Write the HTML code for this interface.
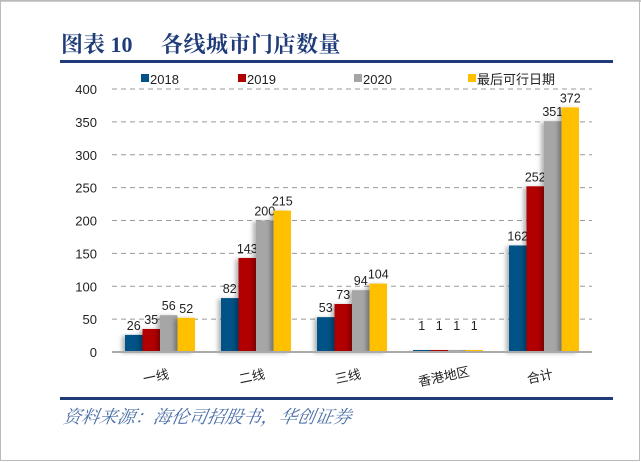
<!DOCTYPE html>
<html><head><meta charset="utf-8"><style>
body{margin:0;background:#fff;}
#wrap{position:relative;width:641px;height:462px;overflow:hidden;background:#fff;}
</style></head><body>
<div id="wrap">
<svg id="chart" width="641" height="462" xmlns="http://www.w3.org/2000/svg">
<defs><filter id="sh" x="-50%" y="-10%" width="200%" height="130%"><feDropShadow dx="-3" dy="1" stdDeviation="2" flood-color="#000" flood-opacity="0.3"/></filter></defs>
<rect x="0" y="0" width="641" height="2" fill="#ccc"/>
<rect x="0.5" y="0.5" width="639" height="460" fill="none" stroke="#bbb"/>
<text x="61" y="52" font-family="'Liberation Serif','Noto Serif CJK SC',serif" font-weight="bold" font-size="22" fill="#1f3c78">图表 10</text>
<text x="161" y="52" font-family="'Liberation Serif','Noto Serif CJK SC',serif" font-weight="bold" font-size="22" letter-spacing="0.5" fill="#1f3c78">各线城市门店数量</text>
<rect x="60" y="60" width="553" height="3" fill="#1f3c78"/>
<rect x="60" y="397" width="553" height="3" fill="#1f3c78"/>
<text x="62" y="423" font-family="'Liberation Serif','Noto Serif CJK SC',serif" font-style="italic" font-size="18" fill="#4a6fa8" transform="skewX(-10) translate(75,0)">资料来源：海伦司招股书，华创证券</text>
<g id="plot"></g>
</svg>
</div>
<script>
const categories=["一线","二线","三线","香港地区","合计"];
const seriesNames=["2018","2019","2020","最后可行日期"];
const s2018=[26,82,53,1,162];
const s2019=[35,143,73,1,252];
const s2020=[56,200,94,1,351];
const sLatest=[52,215,104,1,372];
const yTicks=[0,50,100,150,200,250,300,350,400];
const colors=["#005287","#b00000","#a6a6a6","#ffc000"];
const series=[s2018,s2019,s2020,sLatest];
const NS="http://www.w3.org/2000/svg";
const g=document.getElementById('plot');
const x0=112,x1=592,yb=352,yt=89;
const y=v=>yb-(v/400)*(yb-yt);
const bw=(x1-x0)/categories.length;
const barW=17.5;
const cx=i=>x0+bw*(i+0.5);
function mk(t,a){const e=document.createElementNS(NS,t);for(const k in a)e.setAttribute(k,a[k]);g.appendChild(e);return e;}
yTicks.forEach(t=>{
 if(t>0){const l=mk('line',{x1:x0,x2:x1,y1:y(t),y2:y(t),stroke:'#999','stroke-dasharray':'5,4','stroke-width':1});
 
 }
 const tx=mk('text',{x:97,y:y(t)+5,'text-anchor':'end','font-family':"'Liberation Sans',sans-serif",'font-size':13,fill:'#222'});
 tx.textContent=t;
 
 
});
categories.forEach((c,i)=>{
 series.forEach((s,j)=>{
  const bx=cx(i)-2*barW+j*barW;
  const h=Math.max(yb-y(s[i]),2);
  const r=mk('rect',{x:bx,y:yb-h,width:barW,height:h,fill:colors[j],filter:'url(#sh)'});
  
  
  const v=mk('text',{x:bx+barW/2,y:(i===3?y(0)-22:y(s[i])-5),'text-anchor':'middle','font-family':"'Liberation Sans',sans-serif",'font-size':12.5,fill:'#222'});
  v.textContent=s[i];
  
  
 });
 const lb=mk('text',{x:cx(i)-4,y:381,'text-anchor':'middle','font-family':"'Liberation Sans','Noto Sans CJK SC',sans-serif",'font-size':13,fill:'#222',transform:`rotate(-12 ${cx(i)-4} 377)`});
 lb.textContent=c;
 
 
});
const ax=mk('line',{x1:x0,x2:x1,y1:yb,y2:yb,stroke:'#aaa','stroke-width':2});


const lx=[141,238,354,468];
seriesNames.forEach((n,j)=>{
 const r=mk('rect',{x:lx[j],y:74,width:8,height:8,fill:colors[j]});
 
 
 const t=mk('text',{x:lx[j]+9,y:84,'font-family':"'Liberation Sans','Noto Sans CJK SC',sans-serif",'font-size':13,fill:'#222'});
 t.textContent=n;
 
 
});
</script>
</body></html>
